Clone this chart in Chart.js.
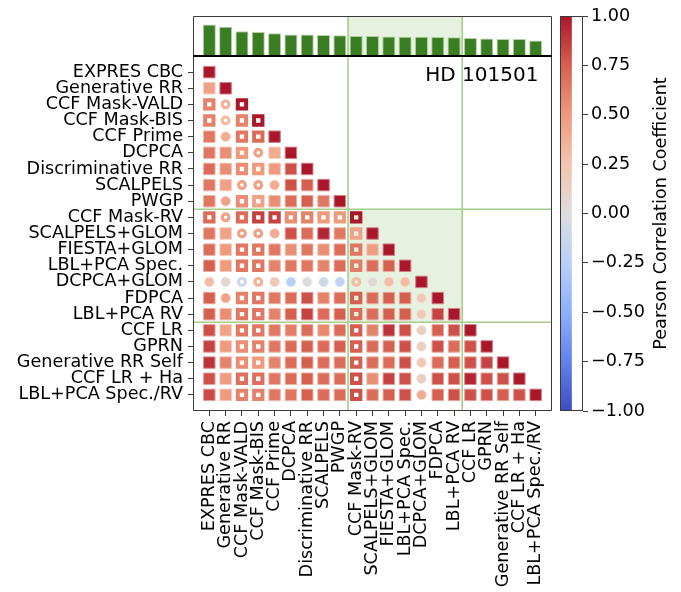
<!DOCTYPE html>
<html>
<head>
<meta charset="utf-8">
<script src="https://cdn.jsdelivr.net/npm/chart.js@4/dist/chart.umd.min.js"></script>
<style>
  html, body { margin: 0; padding: 0; background: #fff; }
  #wrap { position: relative; width: 681px; height: 592px; background: #fff; }
  #wrap canvas { position: absolute; left: 0; top: 0; }
</style>
</head>
<body>
<div id="wrap">
  <canvas id="bars" width="681" height="592"></canvas>
  <canvas id="matrix" width="681" height="592"></canvas>
  <canvas id="cbar" width="681" height="592"></canvas>
</div>
<script>
// Methods, in plotting order (rows top→bottom, columns left→right)
const methods = [
  'EXPRES CBC', 'Generative RR', 'CCF Mask-VALD', 'CCF Mask-BIS', 'CCF Prime',
  'DCPCA', 'Discriminative RR', 'SCALPELS', 'PWGP', 'CCF Mask-RV',
  'SCALPELS+GLOM', 'FIESTA+GLOM', 'LBL+PCA Spec.', 'DCPCA+GLOM', 'FDPCA',
  'LBL+PCA RV', 'CCF LR', 'GPRN', 'Generative RR Self', 'CCF LR + Ha',
  'LBL+PCA Spec./RV'
];

// Per-method score shown in the top panel
const scores = [0.79, 0.73, 0.62, 0.60, 0.57, 0.54, 0.54, 0.525, 0.52, 0.50, 0.50,
                0.49, 0.48, 0.48, 0.475, 0.47, 0.45, 0.44, 0.425, 0.425, 0.39];

// Lower triangle of the Pearson correlation matrix (row i holds columns 0..i)
const corrRows = [
  [1.00],
  [0.45, 1.00],
  [0.60, 0.35, 1.00],
  [0.60, 0.30, 0.60, 1.00],
  [0.65, 0.40, 0.65, 0.70, 1.00],
  [0.65, 0.55, 0.50, 0.45, 0.40, 1.00],
  [0.70, 0.55, 0.55, 0.50, 0.50, 0.80, 1.00],
  [0.65, 0.45, 0.45, 0.45, 0.40, 0.80, 0.75, 1.00],
  [0.65, 0.45, 0.55, 0.45, 0.55, 0.70, 0.75, 0.65, 1.00],
  [0.70, 0.45, 0.70, 0.85, 0.85, 0.55, 0.60, 0.50, 0.50, 1.00],
  [0.65, 0.45, 0.45, 0.45, 0.40, 0.80, 0.70, 0.95, 0.65, 0.45, 1.00],
  [0.70, 0.50, 0.65, 0.65, 0.65, 0.55, 0.65, 0.55, 0.70, 0.65, 0.48, 1.00],
  [0.75, 0.50, 0.65, 0.65, 0.60, 0.65, 0.65, 0.60, 0.70, 0.62, 0.70, 0.75, 1.00],
  [0.30, 0.05, -0.10, 0.35, 0.20, -0.25, 0.00, -0.10, -0.20, 0.30, 0.05, 0.30, 0.32, 1.00],
  [0.75, 0.45, 0.60, 0.65, 0.65, 0.70, 0.80, 0.60, 0.70, 0.75, 0.70, 0.75, 0.75, 0.20, 1.00],
  [0.75, 0.55, 0.65, 0.65, 0.60, 0.75, 0.85, 0.70, 0.75, 0.70, 0.70, 0.75, 0.75, 0.20, 0.85, 1.00],
  [0.80, 0.45, 0.65, 0.65, 0.65, 0.62, 0.70, 0.57, 0.70, 0.75, 0.60, 0.90, 0.80, 0.15, 0.75, 0.80, 1.00],
  [0.85, 0.50, 0.55, 0.60, 0.65, 0.70, 0.75, 0.70, 0.75, 0.75, 0.70, 0.75, 0.80, 0.15, 0.80, 0.70, 0.80, 1.00],
  [0.90, 0.60, 0.55, 0.50, 0.60, 0.70, 0.75, 0.70, 0.70, 0.75, 0.70, 0.70, 0.80, 0.20, 0.70, 0.75, 0.80, 0.85, 1.00],
  [0.80, 0.48, 0.68, 0.68, 0.65, 0.70, 0.75, 0.70, 0.70, 0.80, 0.55, 0.85, 0.80, 0.15, 0.80, 0.80, 0.95, 0.80, 0.80, 1.00],
  [0.82, 0.50, 0.60, 0.60, 0.65, 0.65, 0.75, 0.70, 0.70, 0.80, 0.70, 0.75, 0.80, 0.40, 0.75, 0.80, 0.80, 0.80, 0.75, 0.80, 1.00]
];

// Methods drawn with open markers
const hollowMethods = ['CCF Mask-VALD', 'CCF Mask-BIS', 'CCF Mask-RV'];

// Pairs [row, column] drawn as circles instead of squares
const weakPairs = [
  [2, 1], [3, 1], [4, 1], [5, 3], [7, 2], [7, 3], [7, 4], [8, 1], [9, 1],
  [10, 2], [10, 3], [10, 4],
  [13, 0], [13, 1], [13, 2], [13, 3], [13, 4], [13, 5], [13, 6], [13, 7],
  [13, 8], [13, 9], [13, 10], [13, 11], [13, 12],
  [14, 1], [14, 13], [15, 13], [16, 13], [17, 13], [18, 13], [19, 13], [20, 13]
];

// Group boundaries (between method indices)
const groupEdges = [8.5, 15.5];
const starName = 'HD 101501';
const colorbarTitle = 'Pearson Correlation Coefficient';

// ---------- helpers ----------
const FONT = 'DejaVu Sans';
Chart.defaults.font.family = FONT;
Chart.defaults.font.size = 17.6;
Chart.defaults.color = '#000';

// Diverging blue–grey–red colour map
const cwStops = [
  [59, 76, 192], [98, 130, 234], [141, 176, 254], [184, 208, 249], [221, 221, 221],
  [243, 196, 175], [238, 154, 125], [214, 96, 80], [170, 22, 42]
];
function coolwarmRGB(r) {
  const t = Math.min(1, Math.max(0, (r + 1) / 2)) * (cwStops.length - 1);
  const i = Math.min(cwStops.length - 2, Math.floor(t));
  const f = t - i;
  return cwStops[i].map((c, k) => Math.round(c + (cwStops[i + 1][k] - c) * f));
}
const rgb = (a) => `rgb(${a[0]},${a[1]},${a[2]})`;
const lighten = (a, f) => rgb(a.map(c => Math.round(c + (255 - c) * f)));

const LINE_GREEN = '#a3cf8a';
const FILL_GREEN = 'rgba(140,195,110,0.22)';
const SPINE = '#3a3a3a';

const hollowIdx = new Set(hollowMethods.map(m => methods.indexOf(m)));
const weakSet = new Set(weakPairs.map(p => p[0] + ',' + p[1]));

// ---------- matrix points ----------
const points = [], pStyle = [], pRadius = [], pFill = [], pEdge = [], pWidth = [];
corrRows.forEach((row, i) => {
  row.forEach((r, j) => {
    points.push({ x: j, y: i, r });
    const c = coolwarmRGB(r);
    const hollow = hollowIdx.has(i) || hollowIdx.has(j);
    const weak = weakSet.has(i + ',' + j);
    if (!weak && !hollow) {
      pStyle.push('rect'); pRadius.push(8.1); pFill.push(rgb(c)); pEdge.push(lighten(c, 0.45)); pWidth.push(1);
    } else if (!weak && hollow) {
      pStyle.push('rect'); pRadius.push(5.9); pFill.push('rgba(0,0,0,0)'); pEdge.push(rgb(c)); pWidth.push(4);
    } else if (weak && !hollow) {
      pStyle.push('circle'); pRadius.push(4.8); pFill.push(rgb(c)); pEdge.push(lighten(c, 0.45)); pWidth.push(1);
    } else {
      pStyle.push('circle'); pRadius.push(3.4); pFill.push('rgba(0,0,0,0)'); pEdge.push(rgb(c)); pWidth.push(3.2);
    }
  });
});

// Shaded group block and boundary lines, drawn beneath the markers
function groupPlugin(shadeBlock) {
  return {
    id: 'groups',
    beforeDatasetsDraw(chart) {
      const { ctx, chartArea: a, scales: { x, y } } = chart;
      const x0 = x.getPixelForValue(groupEdges[0]), x1 = x.getPixelForValue(groupEdges[1]);
      ctx.save();
      ctx.fillStyle = FILL_GREEN;
      if (shadeBlock) {
        const y0 = y.getPixelForValue(groupEdges[0]), y1 = y.getPixelForValue(groupEdges[1]);
        ctx.fillRect(x0, Math.min(y0, y1), x1 - x0, Math.abs(y1 - y0));
      } else {
        ctx.fillRect(x0, a.top, x1 - x0, a.bottom - a.top);
      }
      ctx.strokeStyle = LINE_GREEN;
      ctx.lineWidth = 1.6;
      groupEdges.forEach(v => {
        const px = x.getPixelForValue(v);
        ctx.beginPath(); ctx.moveTo(px, a.top); ctx.lineTo(px, a.bottom); ctx.stroke();
        if (shadeBlock) {
          const py = y.getPixelForValue(v);
          ctx.beginPath(); ctx.moveTo(a.left, py); ctx.lineTo(a.right, py); ctx.stroke();
        }
      });
      ctx.restore();
    }
  };
}

// ---------- top panel: per-method bars ----------
new Chart(document.getElementById('bars'), {
  type: 'bar',
  data: {
    datasets: [{
      data: scores.map((v, i) => ({ x: i, y: v })),
      backgroundColor: '#3b7d23',
      borderColor: 'rgba(150,190,130,0.7)',
      borderWidth: 1,
      borderSkipped: 'bottom',
      barPercentage: 0.8,
      categoryPercentage: 1.0
    }]
  },
  options: {
    responsive: false, animation: false, events: [],
    layout: { padding: { left: 193, top: 16, right: 681 - 552, bottom: 592 - 56 } },
    plugins: { legend: { display: false }, tooltip: { enabled: false } },
    scales: {
      x: { type: 'linear', min: -1, max: 21, offset: false, display: false },
      y: { type: 'linear', min: 0, max: 1.0, display: false }
    }
  },
  plugins: [groupPlugin(false), {
    id: 'frame',
    afterDraw(chart) {
      const { ctx, chartArea: a } = chart;
      ctx.save();
      ctx.strokeStyle = SPINE; ctx.lineWidth = 1;
      ctx.beginPath();
      ctx.moveTo(a.left + 0.5, a.bottom); ctx.lineTo(a.left + 0.5, a.top + 0.5);
      ctx.lineTo(a.right - 0.5, a.top + 0.5); ctx.lineTo(a.right - 0.5, a.bottom);
      ctx.stroke();
      ctx.restore();
    }
  }]
});

// ---------- correlation matrix ----------
const catTicks = (axis) => { axis.ticks = methods.map((_, i) => ({ value: i })); };
new Chart(document.getElementById('matrix'), {
  type: 'scatter',
  data: {
    datasets: [{
      data: points,
      pointStyle: pStyle,
      pointRadius: pRadius,
      pointBackgroundColor: pFill,
      pointBorderColor: pEdge,
      pointBorderWidth: pWidth
    }]
  },
  options: {
    responsive: false, animation: false, events: [],
    layout: { padding: { left: 0, top: 56, right: 681 - 552, bottom: 0 } },
    plugins: { legend: { display: false }, tooltip: { enabled: false } },
    scales: {
      x: {
        type: 'linear', min: -1, max: 21, offset: false,
        afterBuildTicks: catTicks,
        afterFit(s) { s.height = 592 - 411; },
        ticks: { autoSkip: false, minRotation: 90, maxRotation: 90, padding: 5,
                 callback: (v) => methods[v] ?? '' },
        grid: { drawOnChartArea: false, tickLength: 5, color: SPINE },
        border: { display: false }
      },
      y: {
        type: 'linear', min: -1, max: 21, reverse: true, offset: false,
        afterBuildTicks: catTicks,
        afterFit(s) { s.width = 193; },
        ticks: { autoSkip: false, padding: 5, callback: (v) => methods[v] ?? '' },
        grid: { drawOnChartArea: false, tickLength: 5, color: SPINE },
        border: { display: false }
      }
    }
  },
  plugins: [groupPlugin(true), {
    id: 'frameAndTitle',
    afterDraw(chart) {
      const { ctx, chartArea: a } = chart;
      ctx.save();
      ctx.strokeStyle = SPINE; ctx.lineWidth = 1;
      ctx.beginPath();
      ctx.moveTo(a.left + 0.5, a.top); ctx.lineTo(a.left + 0.5, a.bottom - 0.5);
      ctx.lineTo(a.right - 0.5, a.bottom - 0.5); ctx.lineTo(a.right - 0.5, a.top);
      ctx.stroke();
      ctx.strokeStyle = '#000'; ctx.lineWidth = 2;
      ctx.beginPath(); ctx.moveTo(a.left, a.top); ctx.lineTo(a.right, a.top); ctx.stroke();
      ctx.fillStyle = '#000';
      ctx.font = `20px "${FONT}"`;
      ctx.textAlign = 'right'; ctx.textBaseline = 'middle';
      ctx.fillText(starName, a.left + (a.right - a.left) * 0.962, a.top + 20);
      ctx.restore();
    }
  }]
});

// ---------- colorbar ----------
new Chart(document.getElementById('cbar'), {
  type: 'bar',
  data: {
    labels: [''],
    datasets: [{
      data: [[-1, 1]],
      barPercentage: 1, categoryPercentage: 1, borderWidth: 0,
      backgroundColor(ctx) {
        const area = ctx.chart.chartArea;
        if (!area) return '#ddd';
        const g = ctx.chart.ctx.createLinearGradient(0, area.bottom, 0, area.top);
        cwStops.forEach((c, k) => g.addColorStop(k / (cwStops.length - 1), rgb(c)));
        return g;
      }
    }]
  },
  options: {
    responsive: false, animation: false, events: [],
    layout: { padding: { left: 560, top: 16, right: 0, bottom: 592 - 411 } },
    plugins: { legend: { display: false }, tooltip: { enabled: false } },
    scales: {
      x: { display: false, offset: false },
      y: {
        position: 'right', min: -1, max: 1,
        afterFit(s) { s.width = 681 - 583; },
        ticks: { stepSize: 0.25, padding: 3,
                 callback: (v) => v.toFixed(2).replace('-', '\u2212') },
        grid: { drawOnChartArea: false, tickLength: 5, color: SPINE },
        border: { display: false }
      }
    }
  },
  plugins: [{
    id: 'cbarFrame',
    afterDraw(chart) {
      const { ctx, chartArea: a } = chart;
      ctx.save();
      ctx.strokeStyle = SPINE; ctx.lineWidth = 1;
      ctx.strokeRect(a.left + 0.5, a.top + 0.5, a.right - a.left - 1, a.bottom - a.top - 1);
      ctx.translate(661, (a.top + a.bottom) / 2);
      ctx.rotate(-Math.PI / 2);
      ctx.fillStyle = '#000';
      ctx.font = `17.6px "${FONT}"`;
      ctx.textAlign = 'center'; ctx.textBaseline = 'middle';
      ctx.fillText(colorbarTitle, 0, 0);
      ctx.restore();
    }
  }]
});
</script>
</body>
</html>
